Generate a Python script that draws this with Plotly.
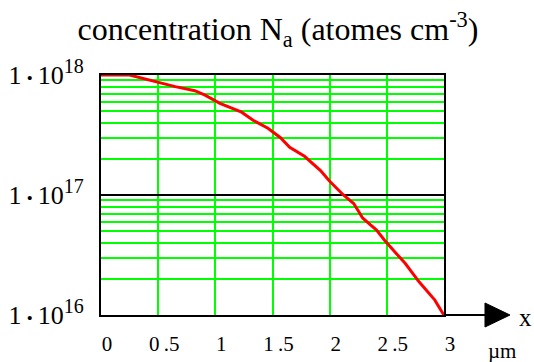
import plotly.graph_objects as go

# Data
x_um = [0.0, 0.25, 0.52, 0.65, 0.82, 0.91, 1.04, 1.23, 1.33, 1.46, 1.57, 1.65, 1.78, 1.92,
        2.00, 2.12, 2.21, 2.29, 2.41, 2.48, 2.59, 2.66, 2.78, 2.92, 2.99, 3.0]
conc = [1.0e18, 1.0e18, 8.6e17, 8.0e17, 7.4e17, 6.8e17, 5.8e17, 4.9e17, 4.2e17, 3.6e17,
        3.0e17, 2.5e17, 2.1e17, 1.6e17, 1.3e17, 1.0e17, 8.5e16, 6.4e16, 5.1e16, 4.2e16,
        3.2e16, 2.7e16, 1.9e16, 1.33e16, 1.03e16, 1.0e16]

x_ticks = [0, 0.5, 1, 1.5, 2, 2.5, 3]
x_ticktext = ["0", "0\u2009.5", "1", "1\u2009.5", "2", "2\u2009.5", "3"]
y_major = [1e16, 1e17, 1e18]
y_exponents = ["16", "17", "18"]
y_major_text = ["1\u2009<span style='font-size:17px'>•</span>\u200910"
                "<sup><span style='font-size:20px'>" + e + "</span></sup>"
                for e in y_exponents]
y_minor = [m * 10 ** e for e in (16, 17) for m in range(2, 10)]

FONT = "Liberation Serif"
W, H = 534, 362

fig = go.Figure()
fig.add_trace(go.Scatter(x=x_um, y=conc, mode="lines",
                         line=dict(color="#ff0000", width=3), showlegend=False,
                         hoverinfo="skip"))

fig.update_layout(
    width=W, height=H,
    margin=dict(l=101, r=90, t=75, b=47, autoexpand=False),
    paper_bgcolor="white", plot_bgcolor="white",
    font=dict(family=FONT, color="black"),
    title=dict(text="concentration N<sub>a</sub> (atomes cm<sup>-3</sup>)",
               x=278 / W, xanchor="center", xref="container",
               y=1 - 29 / H, yanchor="middle", yref="container",
               font=dict(family=FONT, size=32, color="black")),
    xaxis=dict(range=[0, 3], tickvals=x_ticks, ticktext=x_ticktext, automargin=False,
               showgrid=True, gridcolor="#00ff00", gridwidth=2, zeroline=False,
               showline=True, linecolor="black", linewidth=2, mirror=True,
               ticks="", tickfont=dict(family=FONT, size=21, color="black"),
               ticklabelstandoff=9, ticklabelshift=6),
    yaxis=dict(type="log", range=[16, 18], tickvals=y_major, ticktext=y_major_text,
               automargin=False,
               showgrid=True, gridcolor="black", gridwidth=2, zeroline=False,
               showline=True, linecolor="black", linewidth=2, mirror=True,
               ticks="", tickfont=dict(family=FONT, size=26, color="black"),
               ticklabelstandoff=10,
               minor=dict(tickvals=y_minor, showgrid=True, gridcolor="#00ff00",
                          gridwidth=2, ticks="")),
)

# arrow extension of the x axis
fig.add_shape(type="line", xref="paper", yref="paper", x0=1, x1=1.12, y0=0, y1=0,
              line=dict(color="black", width=2))
fig.add_shape(type="path", xref="paper", yref="paper",
              path="M 1.1195,0.05 L 1.1924,0 L 1.1195,-0.05 Z",
              fillcolor="black", line=dict(color="black", width=1))
fig.add_annotation(text="x", xref="paper", yref="paper", x=1.237, y=-0.012,
                   showarrow=False, xanchor="center", yanchor="middle",
                   font=dict(family=FONT, size=25, color="black"))
fig.add_annotation(text="µm", xref="paper", yref="paper", x=1.169, y=-0.15,
                   showarrow=False, xanchor="center", yanchor="middle",
                   font=dict(family=FONT, size=21, color="black"))

fig.write_html("out.html",
               config={"displayModeBar": False},
               post_script="document.body.style.margin='0px';"
                           "document.documentElement.style.overflow='hidden';")
